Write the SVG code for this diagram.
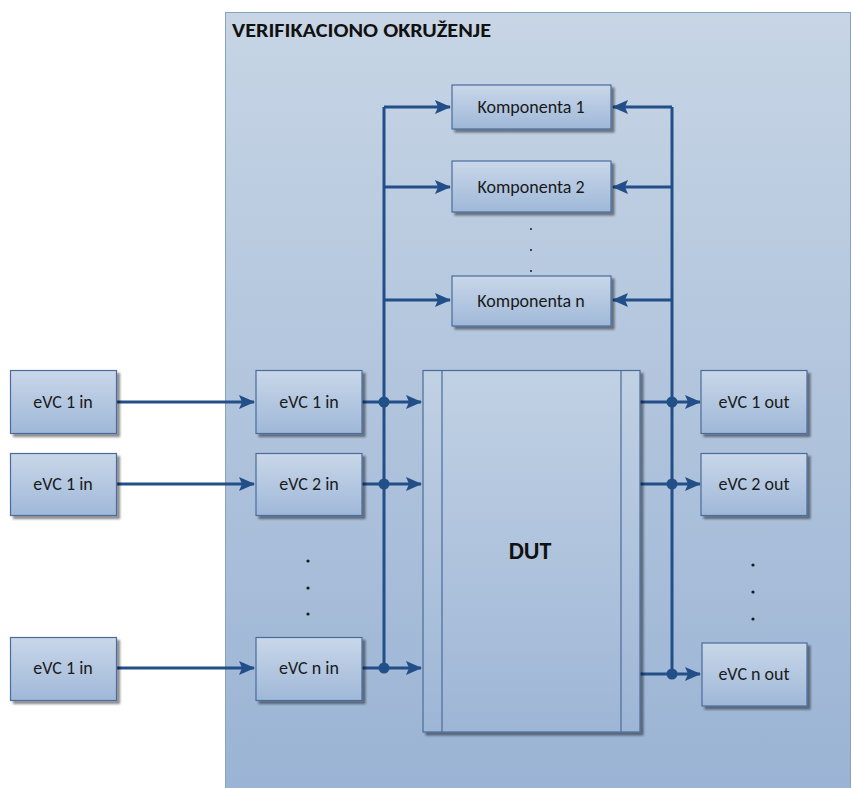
<svg xmlns="http://www.w3.org/2000/svg" width="853" height="788" viewBox="0 0 853 788">
<defs>
<linearGradient id="frameG" x1="0" y1="0" x2="0" y2="1">
<stop offset="0" stop-color="#c7d5e5"/>
<stop offset="1" stop-color="#9ab3d4"/>
</linearGradient>
<linearGradient id="boxG" x1="0" y1="0" x2="0" y2="1">
<stop offset="0" stop-color="#c9d7e9"/>
<stop offset="1" stop-color="#9fb8d8"/>
</linearGradient>
<linearGradient id="dutG" x1="0" y1="0" x2="0" y2="1">
<stop offset="0" stop-color="#c1d1e4"/>
<stop offset="1" stop-color="#9eb6d6"/>
</linearGradient>
<filter id="sh" x="-10%" y="-10%" width="130%" height="130%">
<feGaussianBlur in="SourceAlpha" stdDeviation="1.2"/>
<feOffset dx="3" dy="3"/>
<feComponentTransfer><feFuncA type="linear" slope="0.45"/></feComponentTransfer>
<feMerge><feMergeNode/><feMergeNode in="SourceGraphic"/></feMerge>
</filter>
<marker id="ahb" markerWidth="16" markerHeight="14" refX="15" refY="7" orient="auto" markerUnits="userSpaceOnUse" viewBox="0 0 16 14">
<path d="M0,0 L16,7 L0,14 L3,7 Z" fill="#234f89"/>
</marker>
</defs>
<style>
.box{fill:url(#boxG);stroke:#4a6c9b;stroke-width:1.2;filter:url(#sh)}
.t{font-family:Calibri,Carlito,"Liberation Sans",sans-serif;font-size:18px;fill:#1a1a1a;text-anchor:middle;dominant-baseline:central}
.ln{fill:none;stroke:#234f89;stroke-width:3}
.dot{fill:#234f89}
.dt{fill:#1a1a1a}
</style>

<g id="frame">
<rect x="225.5" y="12.5" width="625" height="790" fill="url(#frameG)" stroke="#8aa2c2" stroke-width="1"/>
<text x="232" y="37" font-family="Calibri,Carlito,'Liberation Sans',sans-serif" font-size="20" font-weight="bold" fill="#111" textLength="259" lengthAdjust="spacingAndGlyphs">VERIFIKACIONO OKRUŽENJE</text>
</g>

<g id="connectors">
<path class="ln" d="M384,107 V668"/>
<path class="ln" d="M384,107 H450" marker-end="url(#ahb)"/>
<path class="ln" d="M384,187 H450" marker-end="url(#ahb)"/>
<path class="ln" d="M384,300 H450" marker-end="url(#ahb)"/>
<path class="ln" d="M672,107 V674"/>
<path class="ln" d="M672,107 H613" marker-end="url(#ahb)"/>
<path class="ln" d="M672,187 H613" marker-end="url(#ahb)"/>
<path class="ln" d="M672,300 H613" marker-end="url(#ahb)"/>
<path class="ln" d="M116,402 H254" marker-end="url(#ahb)"/>
<path class="ln" d="M116,484 H254" marker-end="url(#ahb)"/>
<path class="ln" d="M116,668 H254" marker-end="url(#ahb)"/>
<path class="ln" d="M362,402 H421" marker-end="url(#ahb)"/>
<path class="ln" d="M362,484 H421" marker-end="url(#ahb)"/>
<path class="ln" d="M362,668 H421" marker-end="url(#ahb)"/>
<path class="ln" d="M640,402 H700" marker-end="url(#ahb)"/>
<path class="ln" d="M640,484 H700" marker-end="url(#ahb)"/>
<path class="ln" d="M640,674 H700" marker-end="url(#ahb)"/>
<circle class="dot" cx="384" cy="402" r="5.5"/>
<circle class="dot" cx="384" cy="484" r="5.5"/>
<circle class="dot" cx="384" cy="668" r="5.5"/>
<circle class="dot" cx="672" cy="402" r="5.5"/>
<circle class="dot" cx="672" cy="484" r="5.5"/>
<circle class="dot" cx="672" cy="674" r="5.5"/>
</g>

<g id="k1"><rect class="box" x="452" y="85" width="159" height="44"/><text class="t" x="531" y="107">Komponenta 1</text></g>
<g id="k2"><rect class="box" x="452" y="161" width="159" height="51"/><text class="t" x="531" y="187">Komponenta 2</text></g>
<g id="kdots"><circle class="dt" cx="531" cy="229" r="1"/><circle class="dt" cx="531" cy="250" r="1"/><circle class="dt" cx="531" cy="271" r="1"/></g>
<g id="kn"><rect class="box" x="452" y="276" width="159" height="50"/><text class="t" x="531" y="301">Komponenta n</text></g>

<g id="ext1"><rect class="box" x="10.5" y="370.5" width="106" height="63"/><text class="t" x="63" y="402">eVC 1 in</text></g>
<g id="ext2"><rect class="box" x="10.5" y="453.5" width="106" height="62"/><text class="t" x="63" y="484">eVC 1 in</text></g>
<g id="ext3"><rect class="box" x="10.5" y="637.5" width="106" height="63"/><text class="t" x="63" y="668">eVC 1 in</text></g>

<g id="in1"><rect class="box" x="256" y="370.5" width="106" height="63"/><text class="t" x="309" y="402">eVC 1 in</text></g>
<g id="in2"><rect class="box" x="256" y="453.5" width="106" height="62"/><text class="t" x="309" y="484">eVC 2 in</text></g>
<g id="indots"><circle class="dt" cx="308" cy="561" r="1.6"/><circle class="dt" cx="308" cy="588" r="1.6"/><circle class="dt" cx="308" cy="614" r="1.6"/></g>
<g id="inn"><rect class="box" x="256" y="637.5" width="106" height="63"/><text class="t" x="309" y="668">eVC n in</text></g>

<g id="dut">
<rect x="423" y="370.5" width="217" height="361.5" fill="url(#dutG)" stroke="#4a6c9b" stroke-width="1.2" filter="url(#sh)"/>
<line x1="442" y1="370.5" x2="442" y2="732" stroke="#4a6c9b" stroke-width="1.2"/>
<line x1="621" y1="370.5" x2="621" y2="732" stroke="#4a6c9b" stroke-width="1.2"/>
<text x="530" y="550" font-family="Calibri,Carlito,'Liberation Sans',sans-serif" font-size="24" font-weight="bold" fill="#111" text-anchor="middle" dominant-baseline="central">DUT</text>
</g>

<g id="out1"><rect class="box" x="701" y="370.5" width="106" height="63"/><text class="t" x="754" y="402">eVC 1 out</text></g>
<g id="out2"><rect class="box" x="701" y="453.5" width="106" height="62"/><text class="t" x="754" y="484">eVC 2 out</text></g>
<g id="outdots"><circle class="dt" cx="753" cy="565" r="1.6"/><circle class="dt" cx="753" cy="592" r="1.6"/><circle class="dt" cx="753" cy="619" r="1.6"/></g>
<g id="outn"><rect class="box" x="702" y="643" width="105" height="63"/><text class="t" x="754" y="674">eVC n out</text></g>
</svg>
